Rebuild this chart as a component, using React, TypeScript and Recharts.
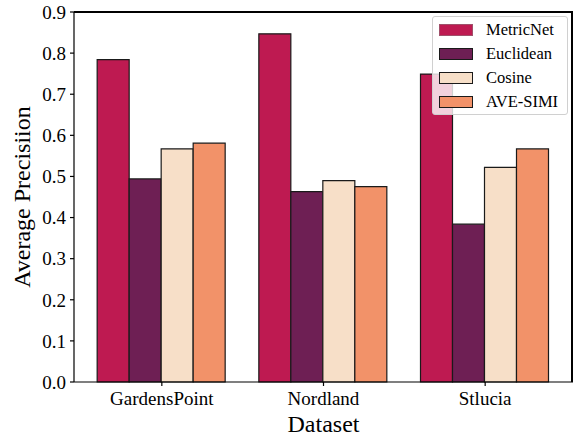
import React from 'react';
import { BarChart, Bar, XAxis, YAxis, Label, ReferenceLine } from 'recharts';

const categories = ['GardensPoint', 'Nordland', 'Stlucia'];
const metricNet = [0.784, 0.847, 0.749];
const euclidean = [0.494, 0.463, 0.384];
const cosine = [0.567, 0.49, 0.522];
const aveSimi = [0.581, 0.475, 0.567];
const yTicks = [0, 0.1, 0.2, 0.3, 0.4, 0.5, 0.6, 0.7, 0.8, 0.9];

const seriesKeys = ['metricNet', 'euclidean', 'cosine', 'aveSimi'];
const seriesNames = ['MetricNet', 'Euclidean', 'Cosine', 'AVE-SIMI'];
const seriesColors = ['#be1a51', '#6e1f54', '#f7dfc8', '#f29269'];

const FONT = '"Liberation Serif", "Times New Roman", serif';
const EDGE = '#1a1a1a';

const W = 578;
const H = 438;
// plot box: left axis width, top/right margins, x axis height
const PLOT = { left: 74, top: 12, right: 5, bottom: 56 };

const chartData = categories.map((name, i) => ({
  name,
  metricNet: metricNet[i],
  euclidean: euclidean[i],
  cosine: cosine[i],
  aveSimi: aveSimi[i],
}));

function LegendBox() {
  return (
    <div
      style={{
        position: 'absolute',
        left: 432,
        top: 16,
        width: 136,
        height: 99,
        boxSizing: 'border-box',
        background: 'rgba(255,255,255,0.8)',
        border: '1px solid #d0d0d0',
        borderRadius: 3,
        fontFamily: FONT,
        fontSize: 16.5,
        color: '#000',
      }}
    >
      {seriesNames.map((n, i) => (
        <div
          key={n}
          style={{ position: 'absolute', left: 6, top: 3 + i * 24, height: 20, display: 'flex', alignItems: 'center' }}
        >
          <span
            style={{
              display: 'inline-block',
              width: 34,
              height: 12,
              boxSizing: 'border-box',
              background: seriesColors[i],
              border: `1.2px solid ${i === 0 ? '#a0506a' : EDGE}`,
              marginRight: 13,
            }}
          />
          <span style={{ whiteSpace: 'nowrap', lineHeight: '20px' }}>{n}</span>
        </div>
      ))}
    </div>
  );
}

export default function App() {
  const tickStyle = { fill: '#000', fontSize: 19, fontFamily: FONT };
  return (
    <div style={{ position: 'absolute', left: 0, top: 0, width: W, height: H, background: '#fff', fontFamily: FONT }}>
      <BarChart
        width={W}
        height={H}
        data={chartData}
        margin={{ top: PLOT.top, right: PLOT.right, bottom: 0, left: 0 }}
        barCategoryGap="10%"
        barGap={0}
      >
        <XAxis
          dataKey="name"
          padding={{ left: 7, right: 7 }}
          height={PLOT.bottom}
          tickSize={4}
          tickMargin={6}
          stroke="#000"
          strokeWidth={1.2}
          tick={tickStyle}
        >
          <Label
            value="Dataset"
            position="insideBottom"
            offset={6}
            style={{ fill: '#000', fontSize: 24, fontFamily: FONT }}
          />
        </XAxis>
        <YAxis
          width={PLOT.left}
          domain={[0, 0.9]}
          ticks={yTicks}
          interval={0}
          tickFormatter={(v: number) => v.toFixed(1)}
          tickSize={4}
          tickMargin={4}
          stroke="#000"
          strokeWidth={1.2}
          tick={tickStyle}
        >
          <Label
            content={(props: any) => {
              const vb = props.viewBox || { x: 0, y: PLOT.top, height: H - PLOT.top - PLOT.bottom };
              const cx = vb.x + 22;
              const cy = vb.y + vb.height / 2;
              return (
                <text
                  x={cx}
                  y={cy}
                  transform={`rotate(-90 ${cx} ${cy})`}
                  textAnchor="middle"
                  dominantBaseline="central"
                  style={{ fill: '#000', fontSize: 24, fontFamily: FONT }}
                >
                  Average Precisiion
                </text>
              );
            }}
          />
        </YAxis>
        {seriesKeys.map((k, i) => (
          <Bar
            key={k}
            dataKey={k}
            name={seriesNames[i]}
            fill={seriesColors[i]}
            stroke={EDGE}
            strokeWidth={1.2}
            isAnimationActive={false}
          />
        ))}
        {/* top spine */}
        <ReferenceLine y={0.9} stroke="#000" strokeWidth={2} />
      </BarChart>
      {/* right spine */}
      <div
        style={{
          position: 'absolute',
          left: W - PLOT.right - 2,
          top: PLOT.top,
          width: 0,
          height: H - PLOT.top - PLOT.bottom,
          borderLeft: '2px solid #000',
          pointerEvents: 'none',
        }}
      />
      <LegendBox />
    </div>
  );
}
